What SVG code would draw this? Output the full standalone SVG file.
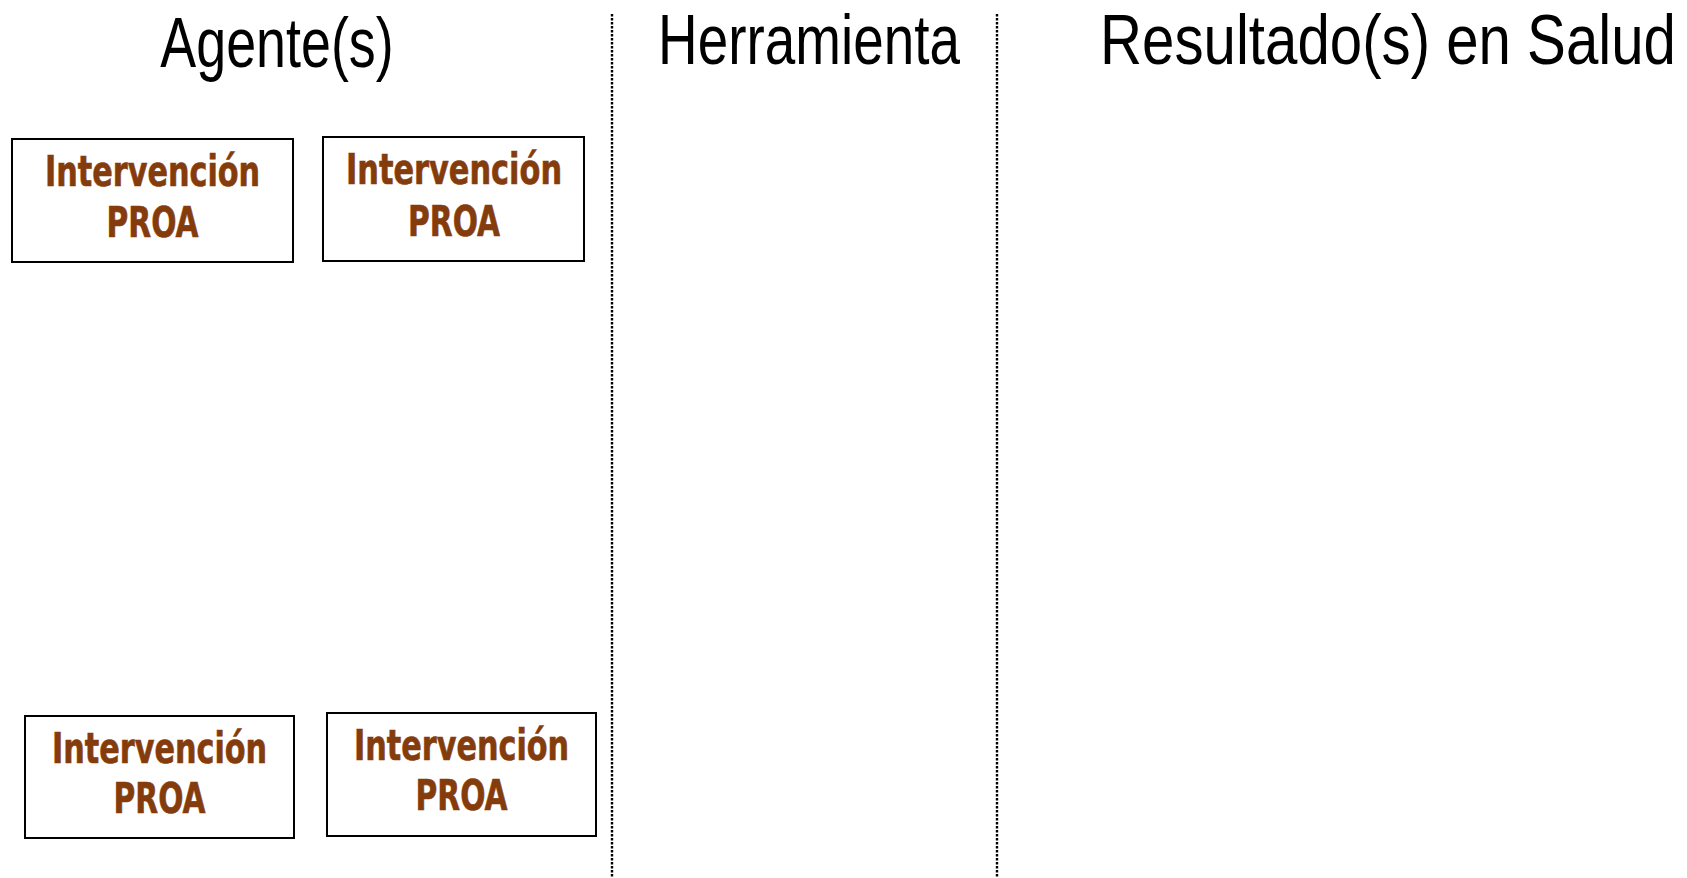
<svg xmlns="http://www.w3.org/2000/svg" width="1687" height="878" viewBox="0 0 1687 878">
<style>
.hdr{font-family:"Liberation Sans",Arial,sans-serif;font-size:70px;font-weight:400;fill:#000;text-anchor:middle}
.box{fill:#fff;stroke:#000;stroke-width:2}
.lbl{font-family:"DejaVu Sans","Liberation Sans",sans-serif;font-stretch:condensed;font-size:42px;font-weight:bold;fill:#843C0C;stroke:#843C0C;stroke-width:0.6;text-anchor:middle}
.sep{stroke:#000;stroke-width:2.4;stroke-dasharray:2.4 1.6;fill:none}
</style>
<rect width="1687" height="878" fill="#fff"/>
<g id="headers">
<text class="hdr" transform="translate(277,67) scale(0.77,1)" textLength="303" lengthAdjust="spacingAndGlyphs">Agente(s)</text>
<text class="hdr" transform="translate(809,64) scale(0.77,1)" textLength="392" lengthAdjust="spacingAndGlyphs">Herramienta</text>
<text class="hdr" transform="translate(1388,64) scale(0.77,1)" textLength="748" lengthAdjust="spacingAndGlyphs">Resultado(s) en Salud</text>
</g>
<g id="separators">
<line class="sep" x1="612" y1="14" x2="612" y2="878"/>
<line class="sep" x1="997" y1="14" x2="997" y2="878"/>
</g>
<g id="node1">
<rect class="box" x="12" y="139" width="281" height="123"/>
<text class="lbl" transform="translate(152.5,186) scale(0.8,1)" textLength="269" lengthAdjust="spacingAndGlyphs">Intervención</text>
<text class="lbl" transform="translate(152.5,237) scale(0.8,1)" textLength="115" lengthAdjust="spacingAndGlyphs">PROA</text>
</g>
<g id="node2">
<rect class="box" x="323" y="137" width="261" height="124"/>
<text class="lbl" transform="translate(454,184) scale(0.8,1)" textLength="270" lengthAdjust="spacingAndGlyphs">Intervención</text>
<text class="lbl" transform="translate(454,236) scale(0.8,1)" textLength="115" lengthAdjust="spacingAndGlyphs">PROA</text>
</g>
<g id="node3">
<rect class="box" x="25" y="716" width="269" height="122"/>
<text class="lbl" transform="translate(159.5,763) scale(0.8,1)" textLength="269" lengthAdjust="spacingAndGlyphs">Intervención</text>
<text class="lbl" transform="translate(159.5,813) scale(0.8,1)" textLength="115" lengthAdjust="spacingAndGlyphs">PROA</text>
</g>
<g id="node4">
<rect class="box" x="327" y="713" width="269" height="123"/>
<text class="lbl" transform="translate(461.5,760) scale(0.8,1)" textLength="269" lengthAdjust="spacingAndGlyphs">Intervención</text>
<text class="lbl" transform="translate(461.5,810) scale(0.8,1)" textLength="115" lengthAdjust="spacingAndGlyphs">PROA</text>
</g>
<g id="connectors"></g>
</svg>
